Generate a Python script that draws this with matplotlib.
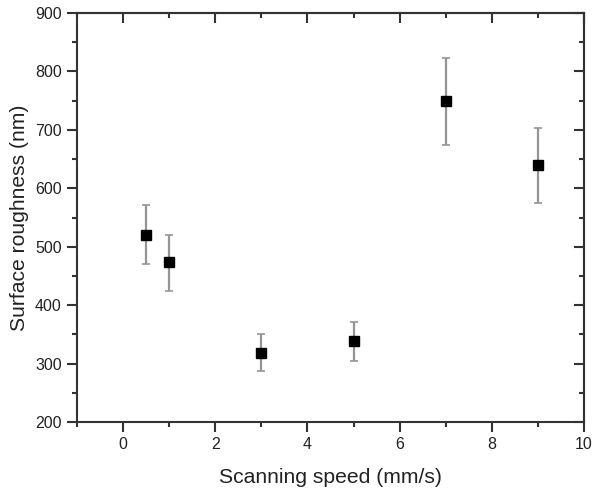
import matplotlib
matplotlib.use("Agg")
import matplotlib.pyplot as plt
from matplotlib.ticker import MultipleLocator

plt.rcParams['font.family'] = ['Liberation Sans', 'DejaVu Sans']

speed = [0.5, 1, 3, 5, 7, 9]
roughness = [520, 473, 318, 338, 749, 639]
err_low = [470, 425, 287, 305, 674, 575]
err_high = [572, 520, 351, 371, 823, 703]

yerr = [[r - lo for r, lo in zip(roughness, err_low)],
        [hi - r for r, hi in zip(roughness, err_high)]]

fig = plt.figure(figsize=(5.94, 4.91), dpi=100)
ax = fig.add_axes([77/594, 1 - 422/491, (584-77)/594, (422-13)/491])

ax.errorbar(speed, roughness, yerr=yerr, fmt='s', color='black', ms=7,
            ecolor='#959595', elinewidth=1.6, capsize=3, capthick=1.2, zorder=3)

ax.set_xlim(-1, 10)
ax.set_ylim(200, 900)
ax.xaxis.set_major_locator(MultipleLocator(2))
ax.xaxis.set_minor_locator(MultipleLocator(1))
ax.yaxis.set_major_locator(MultipleLocator(100))
ax.yaxis.set_minor_locator(MultipleLocator(50))

for s in ax.spines.values():
    s.set_linewidth(1.5)
    s.set_color('#333333')

ax.tick_params(which='both', direction='out', top=False, right=False,
               width=1.5, color='#333333', labelsize=11.5, labelcolor='#222222')
ax.tick_params(which='major', length=7, pad=4)
ax.tick_params(which='minor', length=3.5)

sec_x = ax.secondary_xaxis('top')
sec_x.xaxis.set_major_locator(MultipleLocator(2))
sec_x.xaxis.set_minor_locator(MultipleLocator(1))
sec_x.tick_params(which='both', direction='in', labeltop=False, width=1.5, color='#333333')
sec_x.tick_params(which='major', length=7)
sec_x.tick_params(which='minor', length=3.5)
sec_x.spines['top'].set_linewidth(1.5)
sec_x.spines['top'].set_color('#333333')

sec_y = ax.secondary_yaxis('right')
sec_y.yaxis.set_major_locator(MultipleLocator(100))
sec_y.yaxis.set_minor_locator(MultipleLocator(50))
sec_y.tick_params(which='both', direction='in', labelright=False, width=1.5, color='#333333')
sec_y.tick_params(which='major', length=7)
sec_y.tick_params(which='minor', length=3.5)
sec_y.spines['right'].set_linewidth(1.5)
sec_y.spines['right'].set_color('#333333')

ax.set_xlabel('Scanning speed (mm/s)', fontsize=15.2, color='#222222', labelpad=11)
ax.set_ylabel('Surface roughness (nm)', fontsize=15.2, color='#222222', labelpad=4)

fig.savefig('out.png', dpi=100)
